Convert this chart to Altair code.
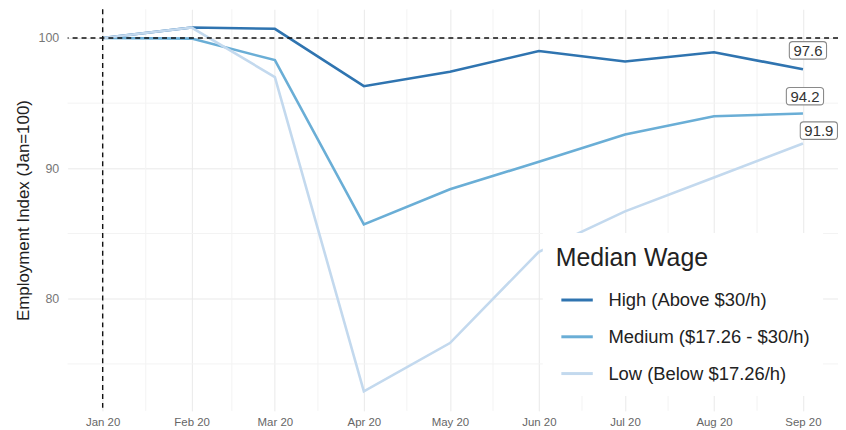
import altair as alt
import pandas as pd

months = ["2020-01-01", "2020-02-01", "2020-03-01", "2020-04-01", "2020-05-01",
          "2020-06-01", "2020-07-01", "2020-08-01", "2020-09-01"]
high = [100.0, 100.8, 100.7, 96.3, 97.4, 99.0, 98.2, 98.9, 97.6]
medium = [100.0, 99.95, 98.3, 85.7, 88.4, 90.5, 92.6, 94.0, 94.2]
low = [100.0, 100.8, 97.0, 72.9, 76.6, 83.6, 86.7, 89.3, 91.9]
series_names = ["High (Above $30/h)", "Medium ($17.26 - $30/h)", "Low (Below $17.26/h)"]
series_colors = ["#2f74b0", "#6aaed6", "#c3d9ee"]
minor_x = ["2020-01-16", "2020-02-15", "2020-03-16", "2020-04-16", "2020-05-16",
           "2020-06-16", "2020-07-16", "2020-08-16"]
minor_y = [75, 85, 95]

rows = []
for name, vals in zip(series_names, [high, medium, low]):
    for m, v in zip(months, vals):
        rows.append({"month": m, "value": v, "series": name})
df = pd.DataFrame(rows)

last = pd.DataFrame({
    "month": [months[-1]] * 3,
    "value": [high[-1], medium[-1], low[-1]],
    "label": [f"{high[-1]:.1f}", f"{medium[-1]:.1f}", f"{low[-1]:.1f}"],
    "series": series_names,
})

x_dom = ["2019-12-19T19:00:00", "2020-09-13T05:00:00"]
y_dom = [71.4, 102.2]

xscale = alt.Scale(domain=x_dom, nice=False)
yscale = alt.Scale(domain=y_dom, nice=False, zero=False)

tick_vals = [alt.DateTime(year=2020, month=m, date=1) for m in range(1, 10)]

x_axis = alt.Axis(values=tick_vals, format="%b %y", title=None, grid=True,
                  gridColor="#e9e9e9", gridWidth=1, domain=False, ticks=False,
                  labelFontSize=11.5, labelColor="#666666", labelPadding=6)
y_axis = alt.Axis(values=[80, 90, 100], title="Employment Index (Jan=100)",
                  grid=True, gridColor="#e9e9e9", domain=False, ticks=False,
                  labelFontSize=12.5, labelColor="#777777", labelPadding=9,
                  titleFontSize=17, titleFontWeight="normal", titleColor="#222222",
                  titlePadding=6)


def X(field="month"):
    return alt.X(f"{field}:T", scale=xscale, axis=x_axis)


def Y(field="value"):
    return alt.Y(f"{field}:Q", scale=yscale, axis=y_axis)


minor_vx = alt.Chart(pd.DataFrame({"month": minor_x})).mark_rule(
    color="#f3f3f3", strokeWidth=1).encode(x=X())
minor_hy = alt.Chart(pd.DataFrame({"value": minor_y})).mark_rule(
    color="#f3f3f3", strokeWidth=1).encode(y=Y())

lines = alt.Chart(df).mark_line(strokeWidth=2.6).encode(
    x=X(), y=Y(),
    color=alt.Color("series:N", sort=series_names,
                    scale=alt.Scale(domain=series_names, range=series_colors),
                    legend=alt.Legend(title="Median Wage", orient="none",
                                      legendX=478, legendY=225,
                                      fillColor="white", padding=13,
                                      titleFontSize=25, titleFontWeight="normal",
                                      titleColor="#222222", titlePadding=12,
                                      labelFontSize=18.5, labelColor="#222222",
                                      symbolType="stroke", symbolStrokeWidth=3,
                                      symbolSize=1000, symbolOffset=4,
                                      rowPadding=10, labelOffset=14,
                                      labelLimit=400)),
    order=alt.Order("month:T"),
)

hline = alt.Chart(pd.DataFrame({"value": [100]})).mark_rule(
    color="#111111", strokeDash=[5, 4], strokeWidth=1.4).encode(y=Y())
vline = alt.Chart(pd.DataFrame({"month": [months[0]]})).mark_rule(
    color="#111111", strokeDash=[5, 4], strokeWidth=1.4).encode(x=X())

box_path = ("M -0.82 -0.47 L 0.82 -0.47 Q 1 -0.47 1 -0.3 L 1 0.3 Q 1 0.47 0.82 0.47 "
            "L -0.82 0.47 Q -1 0.47 -1 0.3 L -1 -0.3 Q -1 -0.47 -0.82 -0.47 Z")
offs = [(5, -19), (2, -17.5), (16, -13)]
label_layers = []
for i, (dx, dy) in enumerate(offs):
    sub = last.iloc[[i]]
    box = alt.Chart(sub).mark_point(shape=box_path, size=1400, filled=True, fill="white",
                                    stroke="#8a8a8a", strokeWidth=1.1, opacity=1,
                                    xOffset=dx, yOffset=dy).encode(x=X(), y=Y())
    txt = alt.Chart(sub).mark_text(fontSize=15, color="#333333", dx=dx, dy=dy + 0.5,
                                   baseline="middle", align="center").encode(
        x=X(), y=Y(), text="label:N")
    label_layers += [box, txt]

chart = alt.layer(minor_vx, minor_hy, lines, hline, vline, *label_layers).properties(
    width=775, height=404,
    autosize=alt.AutoSizeParams(type="none"),
    padding={"left": 60, "top": 0, "right": 0, "bottom": 18},
).configure(font="Liberation Sans").configure_view(
    stroke=None, strokeOpacity=0, strokeWidth=0).configure_axis(domain=False, ticks=False)

chart.save("out.html", embed_options={"renderer": "svg", "actions": False})
